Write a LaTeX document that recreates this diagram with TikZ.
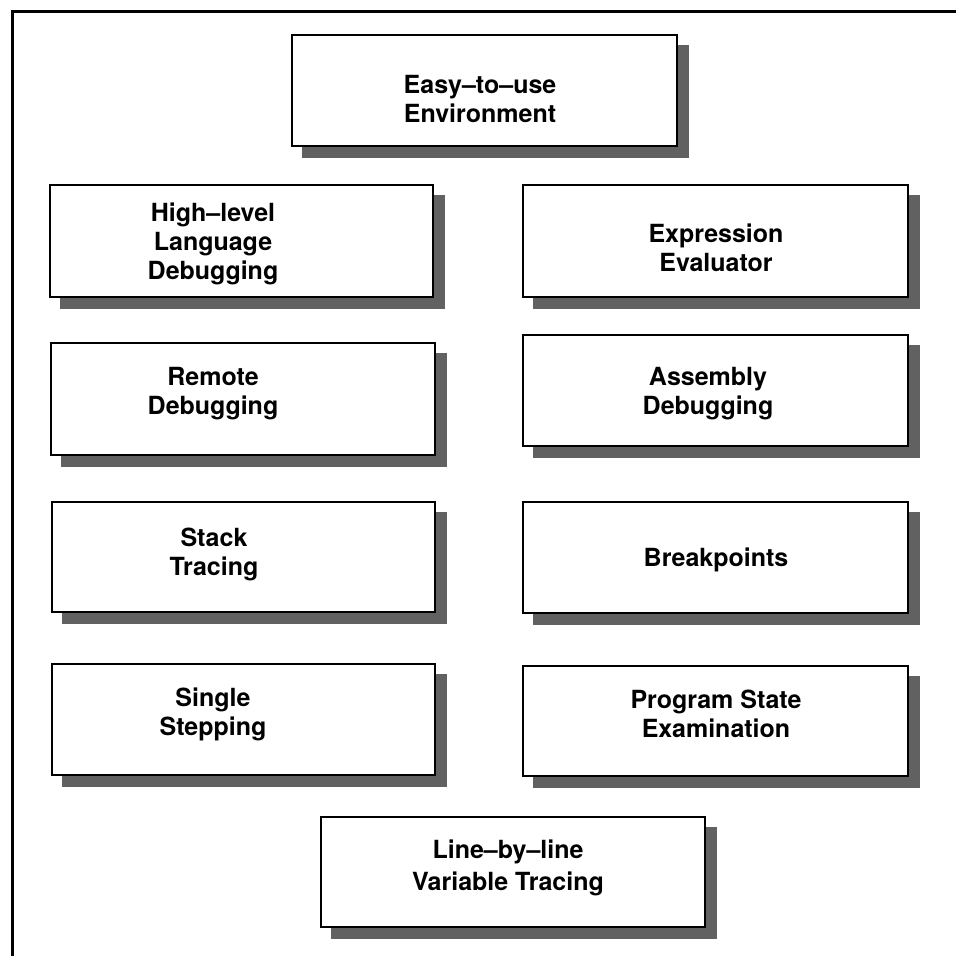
\documentclass[tikz,border=0pt]{standalone}
\usepackage{fontspec}
\setmainfont{TeX Gyre Heros}
\usetikzlibrary{backgrounds}
\begin{document}
\begin{tikzpicture}[x=1pt,y=-1pt,
  card/.style={draw=black, line width=2.2pt, fill=white, inner sep=0pt},
  shade/.style={fill=black!62},
  txt/.style={font=\bfseries\fontsize{25}{29}\selectfont, inner sep=0pt, anchor=base},
  frame/.style={line width=3pt, line cap=rect}]
\useasboundingbox (0,0) rectangle (956,956);

% outer frame (top and left rules)
\coordinate (fbl) at (12,956);
\coordinate (ftl) at (12,11);
\coordinate (ftr) at (956,11);
\draw[frame] (fbl) -- (ftl) -- (ftr);

% boxes
\node[card, minimum width=385, minimum height=111] (env)  at (484.5,90.5) {};
\node[card, minimum width=383, minimum height=112] (hll)  at (241.5,241) {};
\node[card, minimum width=385, minimum height=112] (expr) at (715.5,241) {};
\node[card, minimum width=384, minimum height=112] (rem)  at (243,399) {};
\node[card, minimum width=385, minimum height=111] (asm)  at (715.5,390.5) {};
\node[card, minimum width=383, minimum height=110] (stk)  at (243.5,557) {};
\node[card, minimum width=385, minimum height=111] (brk)  at (715.5,557.5) {};
\node[card, minimum width=383, minimum height=111] (sst)  at (243.5,719.5) {};
\node[card, minimum width=385, minimum height=110] (pse)  at (715.5,721) {};
\node[card, minimum width=384, minimum height=110] (lbl)  at (513,872) {};

% drop shadows
\begin{scope}[on background layer]
  \foreach \b in {env,hll,expr,rem,asm,stk,brk,sst,pse,lbl}
    \fill[shade] ([shift={(11,11)}]\b.north west) rectangle ([shift={(11,11)}]\b.south east);
\end{scope}

% labels
\node[txt] (env1) at (480,93)  {Easy--to--use};
\node[txt] (env2) at (480,122) {Environment};

\node[txt] (hll1) at (213,221) {High--level};
\node[txt] (hll2) at (213,250) {Language};
\node[txt] (hll3) at (213,279) {Debugging};

\node[txt] (expr1) at (716,242) {Expression};
\node[txt] (expr2) at (716,271) {Evaluator};

\node[txt] (rem1) at (213,385) {Remote};
\node[txt] (rem2) at (213,414) {Debugging};

\node[txt] (asm1) at (708,385) {Assembly};
\node[txt] (asm2) at (708,414) {Debugging};

\node[txt] (stk1) at (214,546) {Stack};
\node[txt] (stk2) at (214,575) {Tracing};

\node[txt] (brk1) at (716,566) {Breakpoints};

\node[txt] (sst1) at (213,706) {Single};
\node[txt] (sst2) at (213,735) {Stepping};

\node[txt] (pse1) at (716,708) {Program State};
\node[txt] (pse2) at (716,737) {Examination};

\node[txt] (lbl1) at (508,858) {Line--by--line};
\node[txt] (lbl2) at (508,890) {Variable Tracing};
\end{tikzpicture}
\end{document}
